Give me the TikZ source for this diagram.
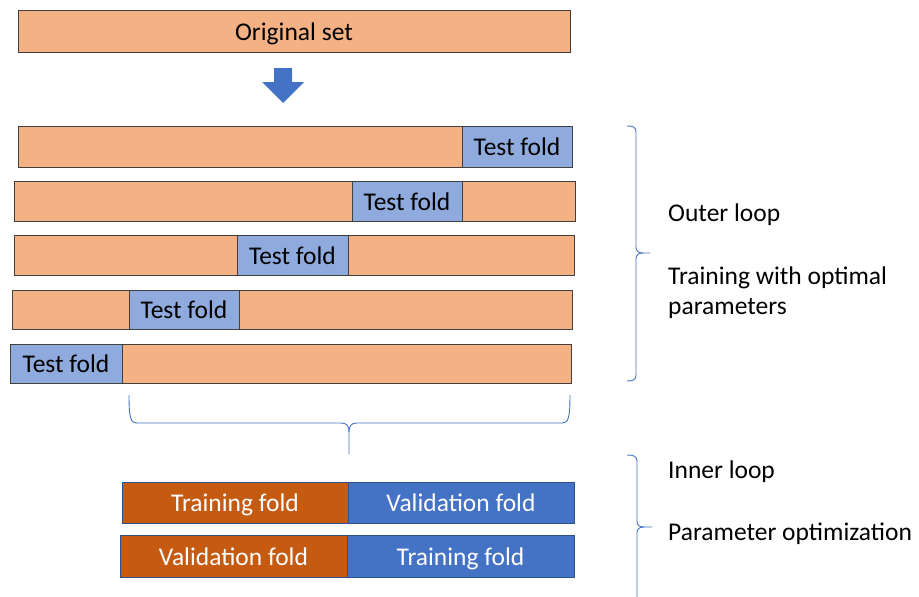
\documentclass[tikz,border=0pt]{standalone}
\usepackage{fontspec}
\setmainfont{Carlito}
\definecolor{lorange}{HTML}{F4B183}
\definecolor{lblue}{HTML}{8FAADC}
\definecolor{dorange}{HTML}{C55A11}
\definecolor{mblue}{HTML}{4472C4}
\definecolor{edgeblue}{HTML}{2F528F}
\begin{document}
\begin{tikzpicture}[x=1pt,y=-1pt,
  txt/.style={font=\fontsize{25.5}{30}\selectfont,text height=20pt,text depth=2pt},
  bar/.style={draw=black!75,line width=0.9pt,fill=lorange,inner sep=0,outer sep=0,anchor=north west,txt},
  testbox/.style={draw=black!75,line width=0.9pt,fill=lblue,inner sep=0,outer sep=0,anchor=north west,txt,text=black},
  foldbox/.style={draw=edgeblue,line width=0.9pt,inner sep=0,outer sep=0,anchor=north west,txt,text=white},
  lbl/.style={anchor=west,inner sep=0,font=\fontsize{25.5}{30}\selectfont,align=left},
  brace/.style={draw=mblue,line width=0.9pt}]
\useasboundingbox (0,0) rectangle (919,597);
% original set
\node[bar,minimum width=552,minimum height=42] (orig) at (18,10) {Original set};
% arrow
\fill[mblue] (274,68) -- (292,68) -- (292,82) -- (304,82) -- (283,103) -- (262,82) -- (274,82) -- cycle;
% rows
\node[bar,minimum width=554,minimum height=41] (r1) at (18,126) {};
\node[testbox,minimum width=110,minimum height=41] (t1) at (462,126) {Test fold};
\node[bar,minimum width=561,minimum height=40] (r2) at (14,181) {};
\node[testbox,minimum width=110,minimum height=40] (t2) at (352,181) {Test fold};
\node[bar,minimum width=560,minimum height=40] (r3) at (14,235) {};
\node[testbox,minimum width=111,minimum height=40] (t3) at (237,235) {Test fold};
\node[bar,minimum width=560,minimum height=39] (r4) at (12,290) {};
\node[testbox,minimum width=110,minimum height=39] (t4) at (129,290) {Test fold};
\node[bar,minimum width=561,minimum height=39] (r5) at (10,344) {};
\node[testbox,minimum width=112,minimum height=39] (t5) at (10,344) {Test fold};
% outer brace
\draw[brace] (627,126) .. controls (633,126) and (636,127) .. (636,132) -- (636,247)
  .. controls (636,251) and (638,253) .. (643,253) -- (650,253);
\draw[brace] (643,253) .. controls (638,253) and (636,255) .. (636,259) -- (636,375)
  .. controls (636,380) and (633,381) .. (627,381);
% bottom horizontal brace
\draw[brace] (129,395) .. controls (129,419) and (131,423) .. (137,423) -- (341,423)
  .. controls (347,423) and (349,426) .. (349,432) -- (349,454);
\draw[brace] (349,432) .. controls (349,426) and (351,423) .. (357,423) -- (562,423)
  .. controls (568,423) and (570,419) .. (570,395);
% inner brace
\draw[brace] (627,455) .. controls (633,455) and (637,456) .. (637,461) -- (637,521)
  .. controls (637,525) and (639,527) .. (644,527) -- (652,527);
\draw[brace] (644,527) .. controls (639,527) and (637,529) .. (637,533) -- (637,597);
% labels
\node[lbl] (outer) at (668,215) {Outer loop};
\node[lbl,anchor=base west] (train) at (668,314) {Training with optimal\\parameters};
\node[lbl] (inner) at (668,472) {Inner loop};
\node[lbl] (param) at (668,534) {Parameter optimization};
% inner folds
\node[foldbox,fill=dorange,minimum width=226,minimum height=41] (a1) at (122,482) {Training fold};
\node[foldbox,fill=mblue,minimum width=226,minimum height=41] (b1) at (348,482) {Validation fold};
\node[foldbox,fill=dorange,minimum width=227,minimum height=42] (a2) at (120,535) {Validation fold};
\node[foldbox,fill=mblue,minimum width=227,minimum height=42] (b2) at (347,535) {Training fold};
\end{tikzpicture}
\end{document}
